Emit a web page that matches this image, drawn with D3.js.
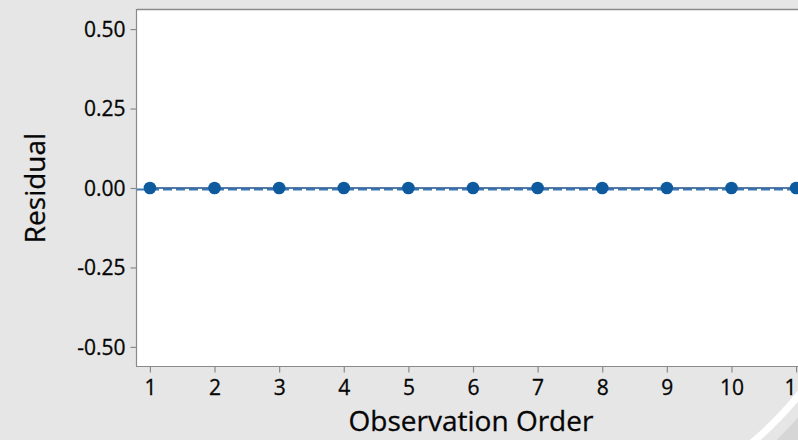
<!DOCTYPE html>
<html>
<head>
<meta charset="utf-8">
<script src="https://cdn.jsdelivr.net/npm/d3@7/dist/d3.min.js"></script>
<style>
  html, body { margin: 0; padding: 0; background: #e6e6e6; }
  svg { display: block; }
  text { font-family: "Open Sans", "Noto Sans", sans-serif; fill: #050505; }
</style>
</head>
<body>
<svg id="chart" width="798" height="440"></svg>
<script>
// Residuals in observation order
const observations = [1, 2, 3, 4, 5, 6, 7, 8, 9, 10, 11];
const residuals = [0, 0, 0, 0, 0, 0, 0, 0, 0, 0, 0];
const yTicks = [-0.50, -0.25, 0.00, 0.25, 0.50];
const xTicks = [1, 2, 3, 4, 5, 6, 7, 8, 9, 10, 11];
const meanResidual = 0;

const W = 798, H = 440;
const plot = { left: 137, top: 10, right: 809, bottom: 366 };

const svg = d3.select("#chart");

// Light page background
svg.append("rect").attr("width", W).attr("height", H).attr("fill", "#e6e6e6");

const x = d3.scaleLinear().domain([0.8, 11.2]).range([plot.left, plot.right]);
const y = d3.scaleLinear().domain([-0.56, 0.56]).range([plot.bottom, plot.top]);

// Plot area
svg.append("rect")
  .attr("x", plot.left).attr("y", plot.top)
  .attr("width", plot.right - plot.left).attr("height", plot.bottom - plot.top)
  .attr("fill", "#ffffff");

// Frame
svg.append("line").attr("x1", plot.left).attr("x2", plot.right)
  .attr("y1", plot.top - 0.5).attr("y2", plot.top - 0.5)
  .attr("stroke", "#8a8a8a").attr("stroke-width", 1.5);
svg.append("line").attr("x1", plot.left - 0.5).attr("x2", plot.left - 0.5)
  .attr("y1", plot.top - 1).attr("y2", plot.bottom)
  .attr("stroke", "#8a8a8a").attr("stroke-width", 1.2);
svg.append("line").attr("x1", plot.left - 1).attr("x2", plot.right)
  .attr("y1", plot.bottom + 0.5).attr("y2", plot.bottom + 0.5)
  .attr("stroke", "#8a8a8a").attr("stroke-width", 1.2);

// Y axis (hyphen-minus for negative labels)
const fmtY = d => d3.format(".2f")(d).replace("\u2212", "-");
const yAxis = d3.axisLeft(y).tickValues(yTicks).tickSize(6).tickPadding(5)
  .tickFormat(fmtY);
const gy = svg.append("g").attr("transform", `translate(${plot.left - 0.5},0)`).call(yAxis);
gy.select(".domain").remove();
gy.selectAll(".tick line").attr("stroke", "#8a8a8a").attr("stroke-width", 1.2);
gy.selectAll(".tick text").attr("font-size", 21).attr("font-family", "Open Sans, sans-serif")
  .attr("fill", "#050505").attr("dy", "0.34em")
  .attr("stroke", "#050505").attr("stroke-width", 0.3);

// X axis
const xAxis = d3.axisBottom(x).tickValues(xTicks).tickSize(6).tickPadding(8)
  .tickFormat(d3.format("d"));
const gx = svg.append("g").attr("transform", `translate(0,${plot.bottom + 0.5})`).call(xAxis);
gx.select(".domain").remove();
gx.selectAll(".tick line").attr("stroke", "#8a8a8a").attr("stroke-width", 1.2);
gx.selectAll(".tick text").attr("font-size", 21).attr("font-family", "Open Sans, sans-serif")
  .attr("fill", "#050505").attr("stroke", "#050505").attr("stroke-width", 0.3);

// Axis titles
svg.append("text")
  .attr("x", 471).attr("y", 431)
  .attr("text-anchor", "middle").attr("font-size", 28)
  .attr("stroke", "#050505").attr("stroke-width", 0.3)
  .text("Observation Order");
svg.append("text")
  .attr("transform", `translate(45,${y(0)}) rotate(-90)`)
  .attr("text-anchor", "middle").attr("font-size", 28)
  .attr("stroke", "#050505").attr("stroke-width", 0.3)
  .text("Residual");

// Center line (mean residual)
svg.append("line")
  .attr("x1", plot.left).attr("x2", plot.right)
  .attr("y1", y(meanResidual) + 1.5).attr("y2", y(meanResidual) + 1.5)
  .attr("stroke", "#3a78b8").attr("stroke-width", 1.8)
  .attr("stroke-dasharray", "9,4");

const pts = observations.map((o, i) => ({ o, r: residuals[i] }));

// Connecting line
svg.append("path").datum(pts)
  .attr("fill", "none").attr("stroke", "#1d4f8c").attr("stroke-width", 1.6)
  .attr("d", d3.line().x(d => x(d.o)).y(d => y(d.r)));

// Points
svg.selectAll("circle.pt").data(pts).enter().append("circle")
  .attr("class", "pt")
  .attr("cx", d => x(d.o)).attr("cy", d => y(d.r)).attr("r", 6.3)
  .attr("fill", "#0e5a9e");

// Page-curl highlight in the lower right corner
svg.append("path")
  .attr("d", "M748,446 Q780,420 806,386")
  .attr("fill", "none").attr("stroke", "#ffffff").attr("stroke-width", 7);
svg.append("path")
  .attr("d", "M770,446 Q790,428 806,408 L806,446 Z")
  .attr("fill", "#d6d6d6");
</script>
</body>
</html>
